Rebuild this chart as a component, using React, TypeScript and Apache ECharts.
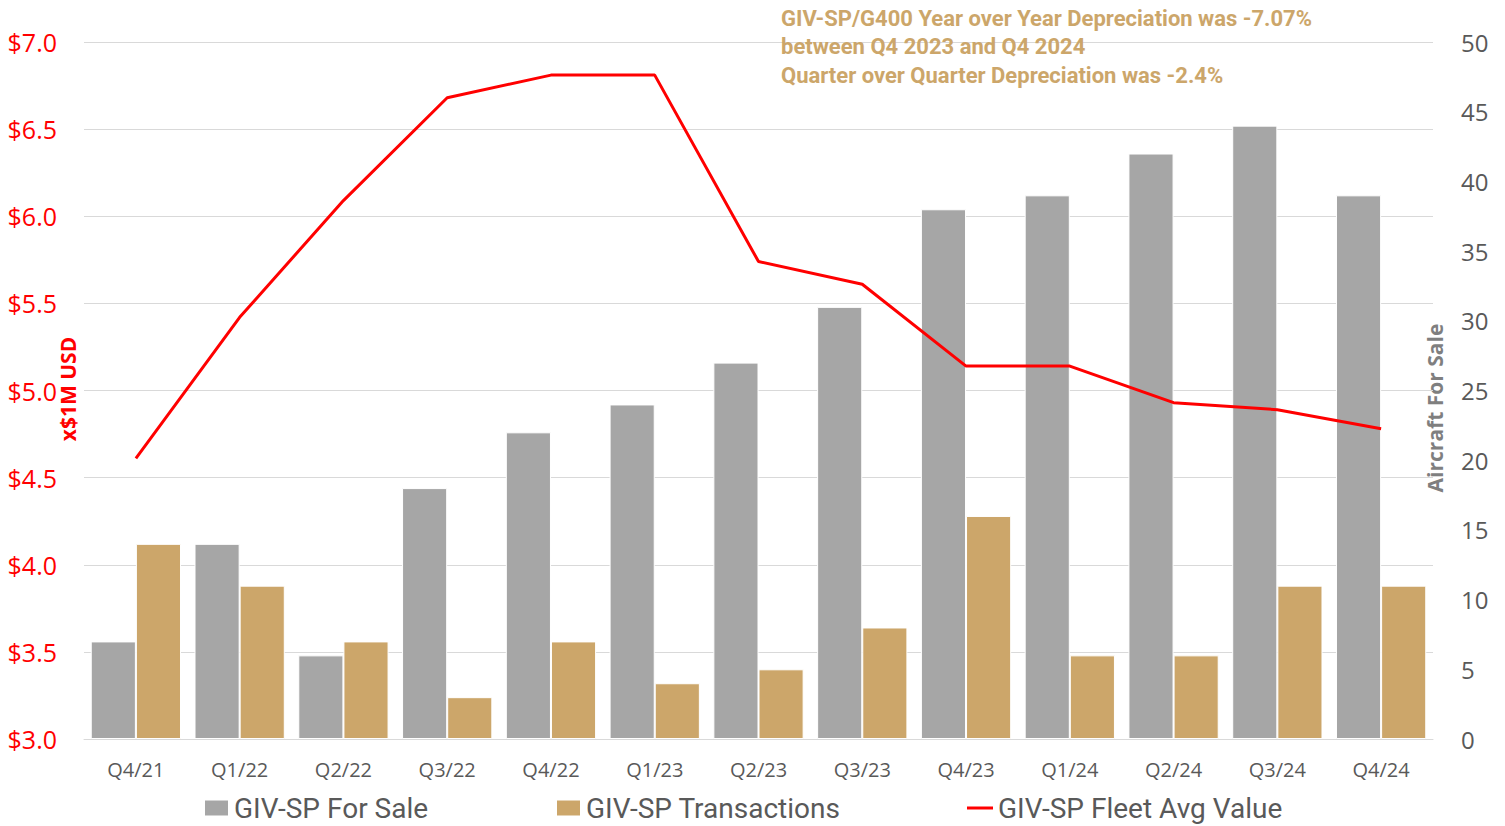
import React, { useEffect, useRef } from "react";
import * as echarts from "echarts";

const categories = ["Q4/21", "Q1/22", "Q2/22", "Q3/22", "Q4/22", "Q1/23", "Q2/23", "Q3/23", "Q4/23", "Q1/24", "Q2/24", "Q3/24", "Q4/24"];
const forSale = [7, 14, 6, 18, 22, 24, 27, 31, 38, 39, 42, 44, 39];
const transactions = [14, 11, 7, 3, 7, 4, 5, 8, 16, 6, 6, 11, 11];
const fleetAvgValue = [4.61, 5.42, 6.09, 6.68, 6.81, 6.81, 5.74, 5.61, 5.14, 5.14, 4.93, 4.89, 4.78];
const titleLines = [
  "GIV-SP/G400 Year over Year Depreciation was -7.07%",
  "between Q4 2023 and Q4 2024",
  "Quarter over Quarter Depreciation was -2.4%",
];

const GRAY = "#A6A6A6";
const TAN = "#CCA66A";
const RED = "#FF0000";
const TEXT = "#595959";
const CONDENSED = "Roboto, sans-serif";

export default function App() {
  const ref = useRef<HTMLDivElement>(null);
  useEffect(() => {
    if (!ref.current) return;
    const chart = echarts.init(ref.current, null, { renderer: "svg" });
    const legendText = { color: TEXT, fontSize: 28, fontFamily: CONDENSED };
    chart.setOption({
      animation: false,
      grid: { left: 84, right: 72, top: 42, bottom: 87 },
      legend: [
        {
          data: [{ name: "GIV-SP For Sale", icon: "rect" }],
          left: 203, top: 794, padding: 0, itemWidth: 25, itemHeight: 17,
          textStyle: legendText,
        },
        {
          data: [{ name: "GIV-SP Transactions", icon: "rect" }],
          left: 555, top: 794, padding: 0, itemWidth: 25, itemHeight: 17,
          textStyle: legendText,
        },
        {
          data: [{ name: "GIV-SP Fleet Avg Value", icon: "rect" }],
          left: 967, top: 794, padding: 0, itemWidth: 26, itemHeight: 3,
          textStyle: legendText,
        },
      ],
      xAxis: {
        type: "category",
        data: categories,
        axisLine: { lineStyle: { color: "#D9D9D9", width: 1 } },
        axisTick: { show: false },
        axisLabel: { color: TEXT, fontSize: 20, fontFamily: "'Open Sans', sans-serif", margin: 20 },
      },
      yAxis: [
        {
          type: "value",
          min: 3,
          max: 7,
          interval: 0.5,
          position: "left",
          axisLine: { show: false },
          axisTick: { show: false },
          splitLine: { lineStyle: { color: "#D9D9D9", width: 1 } },
          axisLabel: {
            color: RED, fontSize: 25, fontFamily: "'Open Sans', sans-serif", margin: 27,
            formatter: (v: number) => "$" + v.toFixed(1),
          },
        },
        {
          type: "value",
          min: 0,
          max: 50,
          interval: 5,
          position: "right",
          axisLine: { show: false },
          axisTick: { show: false },
          splitLine: { show: false },
          axisLabel: { color: TEXT, fontSize: 24, fontFamily: "'Open Sans', sans-serif", margin: 28 },
        },
      ],
      series: [
        {
          name: "GIV-SP For Sale",
          type: "bar",
          yAxisIndex: 1,
          data: forSale,
          barGap: "0%",
          barCategoryGap: "13%",
          itemStyle: { color: GRAY, borderColor: "#FFFFFF", borderWidth: 1 },
        },
        {
          name: "GIV-SP Transactions",
          type: "bar",
          yAxisIndex: 1,
          data: transactions,
          barGap: "0%",
          barCategoryGap: "13%",
          itemStyle: { color: TAN, borderColor: "#FFFFFF", borderWidth: 1 },
        },
        {
          name: "GIV-SP Fleet Avg Value",
          type: "line",
          yAxisIndex: 0,
          data: fleetAvgValue,
          showSymbol: false,
          symbol: "none",
          lineStyle: { color: RED, width: 3 },
          itemStyle: { color: RED },
          z: 5,
        },
      ],
      graphic: [
        {
          type: "text",
          left: 781,
          top: 4,
          style: {
            text: titleLines.join("\n"),
            fill: TAN,
            font: "bold 22px " + CONDENSED,
            lineHeight: 28.5,
          },
          z: 10,
        },
        {
          type: "text",
          x: 68,
          y: 389,
          rotation: Math.PI / 2,
          style: {
            text: "x$1M USD",
            fill: RED,
            font: "bold 21px 'Open Sans', sans-serif",
            align: "center",
            verticalAlign: "middle",
          },
        },
        {
          type: "text",
          x: 1435,
          y: 408,
          rotation: Math.PI / 2,
          style: {
            text: "Aircraft For Sale",
            fill: "#7F7F7F",
            font: "bold 21px 'Open Sans', sans-serif",
            align: "center",
            verticalAlign: "middle",
          },
        },
      ],
    });
    return () => chart.dispose();
  }, []);
  return <div ref={ref} style={{ width: 1505, height: 826, position: "absolute", left: 0, top: 0 }} />;
}
